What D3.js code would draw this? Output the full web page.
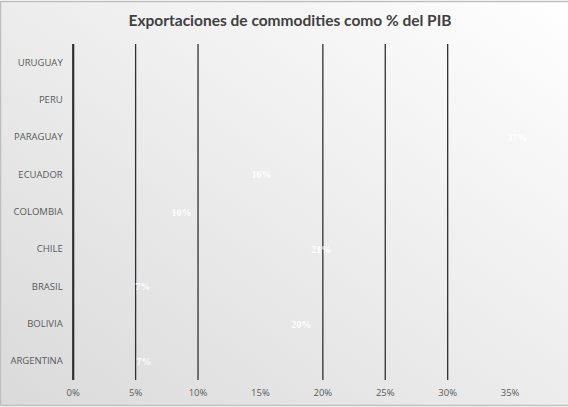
<!DOCTYPE html>
<html>
<head>
<meta charset="utf-8">
<script src="https://cdn.jsdelivr.net/npm/d3@7"></script>
<style>
  body { margin: 0; background: #fff; }
  svg { display: block; }
</style>
</head>
<body>
<svg id="chart"></svg>
<script>
const title = "Exportaciones de commodities como % del PIB";
const countries = ["ARGENTINA", "BOLIVIA", "BRASIL", "CHILE", "COLOMBIA", "ECUADOR", "PARAGUAY", "PERU", "URUGUAY"];
const shares = [0.068, 0.196, 0.067, 0.212, 0.100, 0.164, 0.369, null, null];
const xTicks = [0, 0.05, 0.10, 0.15, 0.20, 0.25, 0.30, 0.35];
const gridTicks = [0, 0.05, 0.10, 0.20, 0.25, 0.30];

const width = 568;
const height = 407;
const margin = {top: 44, right: -4, bottom: 27, left: 72.7};

let svg = d3.select("#chart")
            .attr("width", width)
            .attr("height", height);

// background gradient
let grad = svg.append("defs").append("linearGradient")
                .attr("id", "bg")
                .attr("x1", "100%").attr("y1", "0%")
                .attr("x2", "0%").attr("y2", "100%");
grad.append("stop").attr("offset", "0%").attr("stop-color", "#ffffff");
grad.append("stop").attr("offset", "100%").attr("stop-color", "#dadada");

svg.append("rect")
    .attr("x", 0.5).attr("y", 1.5)
    .attr("width", width + 10).attr("height", height - 3)
    .attr("fill", "url(#bg)")
    .attr("stroke", "#bfbfbf")
    .attr("stroke-width", 1.5);

svg.append("text")
    .attr("x", 290)
    .attr("y", 26)
    .attr("text-anchor", "middle")
    .style("font-family", "Lato, 'Open Sans', sans-serif")
    .style("font-weight", "bold")
    .style("font-size", "15.5px")
    .style("fill", "#404040")
    .text(title);

let x = d3.scaleLinear()
          .domain([0, 0.40])
          .range([margin.left, width - margin.right]);

let y = d3.scaleBand()
          .domain(countries.slice().reverse())
          .range([margin.top, height - margin.bottom]);

// gridlines
let grid = svg.append("g")
                .attr("transform", `translate(0, ${height - margin.bottom})`)
              .call(d3.axisBottom(x)
                      .tickValues(gridTicks)
                      .tickSize(-(height - margin.bottom - margin.top))
                      .tickFormat(""));
grid.select(".domain").remove();
grid.selectAll("line")
    .attr("stroke", "#303030")
    .attr("stroke-width", d => d === 0 ? 2.2 : 1.3);

// x axis labels
let xAxis = svg.append("g")
                .attr("transform", `translate(0, ${height - margin.bottom})`)
              .call(d3.axisBottom(x)
                      .tickValues(xTicks)
                      .tickSize(0)
                      .tickPadding(9)
                      .tickFormat(d3.format(".0%")));
xAxis.select(".domain").remove();
xAxis.selectAll("text")
    .style("font-family", "'Open Sans', sans-serif")
    .style("font-size", "9.5px")
    .style("fill", "#595959");

// y axis labels
let yAxis = svg.append("g")
                .attr("transform", `translate(${margin.left - 10}, 0)`)
              .call(d3.axisLeft(y).tickSize(0).tickPadding(0));
yAxis.select(".domain").remove();
yAxis.selectAll("text")
    .style("font-family", "'Open Sans', sans-serif")
    .style("font-size", "9.5px")
    .style("fill", "#595959");

let data = countries.map((c, i) => ({country: c, value: shares[i]}))
                    .filter(d => d.value !== null);

// bars (no fill, same as the original)
svg.append("g")
    .selectAll("rect")
    .data(data)
    .enter()
    .append("rect")
      .attr("x", x(0) + 1)
      .attr("y", d => y(d.country) + y.bandwidth() * 0.2)
      .attr("width", d => x(d.value) - x(0) - 1)
      .attr("height", y.bandwidth() * 0.6)
      .attr("fill", "none");

// value labels
svg.append("g")
    .selectAll("text")
    .data(data)
    .enter()
    .append("text")
      .attr("x", d => x(d.value) - 6)
      .attr("y", d => y(d.country) + y.bandwidth() / 2)
      .attr("dy", "0.35em")
      .attr("text-anchor", "end")
      .style("font-family", "'Liberation Serif', serif")
      .style("font-weight", "bold")
      .style("font-size", "10px")
      .style("fill", "#ffffff")
      .text(d => d3.format(".0%")(d.value));
</script>
</body>
</html>
